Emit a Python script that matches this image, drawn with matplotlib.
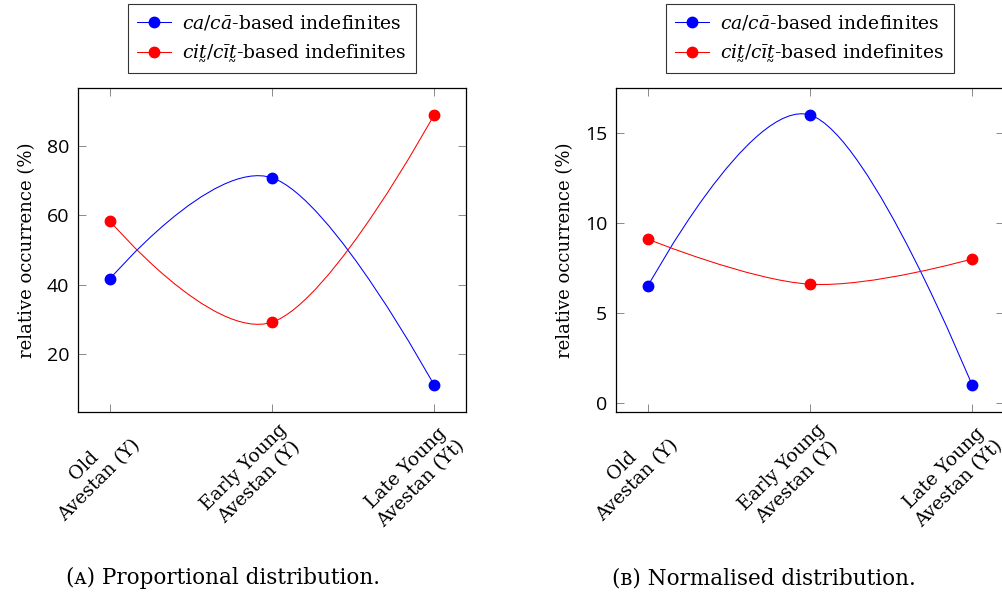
import numpy as np
import matplotlib
matplotlib.use("Agg")
import matplotlib.pyplot as plt
import matplotlib.transforms as mtransforms
from matplotlib.path import Path
from matplotlib.patches import PathPatch
from matplotlib.lines import Line2D

# ---------------------------- data ----------------------------
periods      = ["Old\nAvestan (Y)", "Early Young\nAvestan (Y)", "Late Young\nAvestan (Yt)"]
series_names = ["$\\mathit{ca/c\u0101}$-based indefinites",
                "$\\mathit{cit\u0330/c\u012bt\u0330}$-based indefinites"]
prop_ca      = [41.7, 70.8, 11.1]
prop_cit     = [58.3, 29.2, 88.9]
norm_ca      = [6.5, 16.0, 1.0]
norm_cit     = [9.1, 6.6, 8.0]
prop_yticks  = [20, 40, 60, 80]
norm_yticks  = [0, 5, 10, 15]
captions     = ["Proportional distribution.", "Normalised distribution."]
cap_letters  = ["\u1d00", "\u0299"]   # small-cap A / B

SERIF = ["DejaVu Serif"]
SANS  = ["Open Sans", "DejaVu Sans"]
COLORS = ["blue", "red"]
TENSION = 0.55
# --------------------------------------------------------------

plt.rcParams["mathtext.fontset"] = "dejavuserif"


def smooth_path(xs, ys, tension=TENSION):
    """tikz 'smooth' style cubic bezier through the points"""
    p = np.column_stack([xs, ys]).astype(float)
    n = len(p)
    k = tension / 3.0
    verts, codes = [p[0]], [Path.MOVETO]
    for i in range(n - 1):
        d0 = p[i + 1] - p[i - 1] if i > 0 else np.zeros(2)
        d1 = p[i + 2] - p[i] if i + 2 < n else np.zeros(2)
        verts += [p[i] + k * d0, p[i + 1] - k * d1, p[i + 1]]
        codes += [Path.CURVE4] * 3
    return Path(verts, codes)


def draw_panel(fig, rect, ca, cit, yticks, cap_x, letter, caption):
    ax = fig.add_axes(rect)
    x = np.arange(len(periods))
    for vals, col in zip([ca, cit], COLORS):
        ax.add_patch(PathPatch(smooth_path(x, vals), fill=False,
                               edgecolor=col, lw=0.75))
        ax.plot(x, vals, "o", color=col, ms=7.5, zorder=3)

    allv = ca + cit
    lo, hi = min(allv), max(allv)
    pad = 0.1 * (hi - lo)
    ax.set_ylim(lo - pad, hi + pad)
    ax.set_xlim(-0.2, 2.2)

    # rotated tick labels, anchored north-east just below each tick
    ax.set_xticks(x)
    ax.set_xticklabels([])
    shift = mtransforms.ScaledTranslation(6 / 100, -9 / 100, fig.dpi_scale_trans)
    for xi, lab in zip(x, periods):
        ax.text(xi, 0, lab, transform=ax.get_xaxis_transform() + shift,
                rotation=45, ha="right", va="top", rotation_mode="anchor",
                multialignment="center", family=SERIF, fontsize=13.5,
                linespacing=1.25, clip_on=False)

    ax.set_yticks(yticks)
    ax.set_yticklabels([str(t) for t in yticks], family=SANS, fontsize=14)
    ax.tick_params(direction="in", length=6, width=0.6, color="#777777",
                   top=True, right=True, pad=6)
    for s in ax.spines.values():
        s.set_linewidth(0.9)
    ax.set_ylabel("relative occurrence (%)", family=SERIF, fontsize=13,
                  labelpad=8)

    handles = [Line2D([], [], color=c, lw=0.75, marker="o", ms=7.5) for c in COLORS]
    leg = ax.legend(handles, series_names,
                    loc="lower center", bbox_to_anchor=(0.5, 1.045),
                    borderaxespad=0, frameon=True, fancybox=False,
                    edgecolor="black", handlelength=1.8, handletextpad=0.6,
                    borderpad=0.5, labelspacing=0.5,
                    prop={"family": SERIF, "size": 13.5})
    leg.get_frame().set_linewidth(0.8)

    fig.text(cap_x, 1 - 578 / 595,
             f"({letter}) {caption}", ha="center", va="center",
             family=SERIF, fontsize=15.5)
    return ax


fig = plt.figure(figsize=(10.03, 5.95), dpi=100)
H, W = 595.0, 1003.0
draw_panel(fig, [77.6 / W, 1 - 412 / H, 388.8 / W, 324 / H],
           prop_ca, prop_cit, prop_yticks, 223 / W, cap_letters[0], captions[0])
draw_panel(fig, [615.6 / W, 1 - 412 / H, 388.8 / W, 324 / H],
           norm_ca, norm_cit, norm_yticks, 764 / W, cap_letters[1], captions[1])

fig.savefig("out.png", dpi=100)
